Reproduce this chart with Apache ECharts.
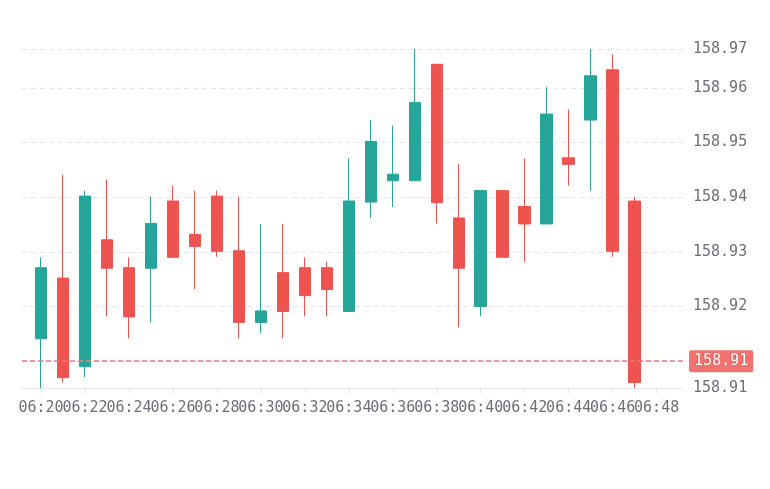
<!DOCTYPE html>
<html><head><meta charset="utf-8">
<script src="https://cdn.jsdelivr.net/npm/echarts@6/dist/echarts.min.js"></script>
<style>html,body{margin:0;padding:0;background:#fff}#c{width:770px;height:489px}</style>
</head><body><div id="c"></div>
<script>
const times = ['06:20','06:21','06:22','06:23','06:24','06:25','06:26','06:27','06:28','06:29','06:30','06:31','06:32','06:33','06:34','06:35','06:36','06:37','06:38','06:39','06:40','06:41','06:42','06:43','06:44','06:45','06:46','06:47'];
const opens  = [158.9141,158.9252,158.9090,158.9322,158.9271,158.9270,158.9393,158.9332,158.9402,158.9302,158.9171,158.9262,158.9271,158.9271,158.9191,158.9391,158.9430,158.9430,158.9643,158.9362,158.9200,158.9412,158.9383,158.9351,158.9472,158.9541,158.9633,158.9393];
const closes = [158.9271,158.9070,158.9402,158.9270,158.9181,158.9352,158.9290,158.9310,158.9301,158.9171,158.9192,158.9191,158.9220,158.9231,158.9393,158.9502,158.9442,158.9573,158.9390,158.9270,158.9412,158.9290,158.9351,158.9552,158.9460,158.9622,158.9301,158.9061];
const lows   = [158.9051,158.9061,158.9071,158.9182,158.9142,158.9171,158.9290,158.9232,158.9291,158.9142,158.9151,158.9142,158.9182,158.9182,158.9191,158.9362,158.9382,158.9430,158.9352,158.9162,158.9182,158.9290,158.9281,158.9351,158.9421,158.9412,158.9291,158.9051];
const highs  = [158.9290,158.9441,158.9412,158.9432,158.9290,158.9401,158.9421,158.9412,158.9412,158.9401,158.9351,158.9351,158.9290,158.9281,158.9471,158.9541,158.9531,158.9671,158.9643,158.9461,158.9412,158.9412,158.9471,158.9601,158.9561,158.9671,158.9661,158.9401];
const markPrice = 158.91;
const axisStart = '06:19:08';
const axisEnd = '06:49:12';

function toTs(hms) {
  const p = hms.split(':').map(Number);
  return new Date(2024, 0, 1, p[0], p[1], p[2] || 0).getTime();
}
const data = times.map((t, i) => [toTs(t), opens[i], closes[i], lows[i], highs[i]]);
const FONT = "'DejaVu Sans Mono', monospace";
const UP = '#26a69a', DOWN = '#ef5350';

const chart = echarts.init(document.getElementById('c'), null, {renderer: 'canvas'});
chart.setOption({
  animation: false,
  grid: {left: 22, right: 87, top: 49, bottom: 101, containLabel: false},
  xAxis: {
    type: 'time',
    min: toTs(axisStart),
    max: toTs(axisEnd),
    splitNumber: 10,
    axisLine: {lineStyle: {color: '#E0E6F1'}},
    axisTick: {show: true, lineStyle: {color: '#E0E6F1'}},
    splitLine: {show: false},
    axisLabel: {
      formatter: '{HH}:{mm}', color: '#6E7079', fontFamily: FONT, fontSize: 15, margin: 13,
      showMinLabel: false, showMaxLabel: false, hideOverlap: false
    }
  },
  yAxis: {
    type: 'value',
    position: 'right',
    scale: true,
    min: 'dataMin',
    max: 'dataMax',
    axisLine: {show: false},
    axisTick: {show: false},
    splitLine: {show: true, lineStyle: {color: '#E0E6F1', type: [5, 4]}},
    axisLabel: {
      color: '#6E7079', fontFamily: FONT, fontSize: 15, margin: 10,
      formatter: v => v.toFixed(2)
    }
  },
  series: [{
    type: 'candlestick',
    data: data,
    encode: {x: 0, y: [1, 2, 3, 4]},
    barWidth: 12,
    itemStyle: {color: UP, color0: DOWN, borderColor: UP, borderColor0: DOWN, borderWidth: 1},
    markLine: {
      silent: true,
      symbol: ['none', 'none'],
      lineStyle: {color: '#f07a78', type: [5, 3], width: 1.5},
      label: {
        show: true, position: 'end', distance: 6,
        formatter: p => Number(p.value).toFixed(2),
        color: '#fff', fontFamily: FONT, fontSize: 15,
        backgroundColor: 'rgba(239,83,80,0.82)', padding: [4, 5, 3, 5], borderRadius: 2
      },
      emphasis: {disabled: true},
      data: [{yAxis: markPrice}]
    }
  }]
});
</script>
</body></html>
